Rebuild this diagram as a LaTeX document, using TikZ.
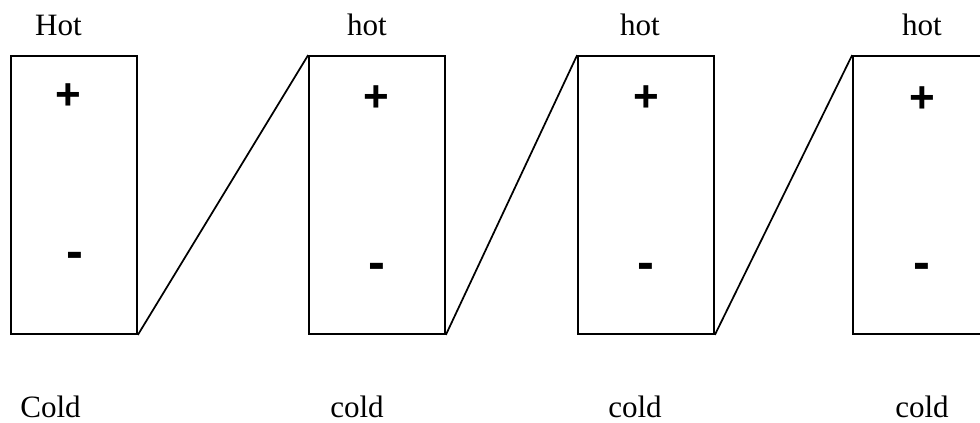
\documentclass[tikz,border=0pt]{standalone}
\usepackage{fontspec}
\setmainfont{Liberation Serif}
\newfontfamily\signfont{Liberation Sans}
\begin{document}
\begin{tikzpicture}[x=0.75pt,y=-0.75pt,
  cell/.style={draw,line width=1.3pt,rectangle,inner sep=0pt,minimum height=208.5pt},
  narrow/.style={cell,minimum width=94.5pt},
  wide/.style={cell,minimum width=102pt},
  lbl/.style={anchor=base,inner sep=0pt,font=\fontsize{23.3pt}{28pt}\selectfont},
  sign/.style={inner sep=0pt,font=\signfont\bfseries\fontsize{33pt}{38pt}\selectfont},
  minus/.style={inner sep=0pt,font=\signfont\bfseries\fontsize{38pt}{44pt}\selectfont},
  wire/.style={line width=1.3pt}]
\useasboundingbox (0,0) rectangle (980,423);
\clip (0,0) rectangle (980,423);
\node[narrow] (b1) at (74,195) {};
\node[wide] (b2) at (377,195) {};
\node[wide] (b3) at (646,195) {};
\node[wide] (b4) at (921,195) {};
\draw[wire] (b1.south east) -- (b2.north west);
\draw[wire] (b2.south east) -- (b3.north west);
\draw[wire] (b3.south east) -- (b4.north west);
\node[lbl] (h1) at (58.5,36) {Hot};
\node[lbl] (h2) at (367,36) {hot};
\node[lbl] (h3) at (640,36) {hot};
\node[lbl] (h4) at (922,36) {hot};
\node[lbl] (c1) at (50.5,417) {Cold};
\node[lbl] (c2) at (357,417) {cold};
\node[lbl] (c3) at (635,417) {cold};
\node[lbl] (c4) at (922,417) {cold};
\node[sign] (p1) at (68.5,97) {+};
\node[sign] (p2) at (376.5,99) {+};
\node[sign] (p3) at (646,99) {+};
\node[sign] (p4) at (922,100) {+};
\node[minus] (m1) at (74.5,260) {-};
\node[minus] (m2) at (377,271) {-};
\node[minus] (m3) at (646,271) {-};
\node[minus] (m4) at (922,271) {-};
\end{tikzpicture}
\end{document}
